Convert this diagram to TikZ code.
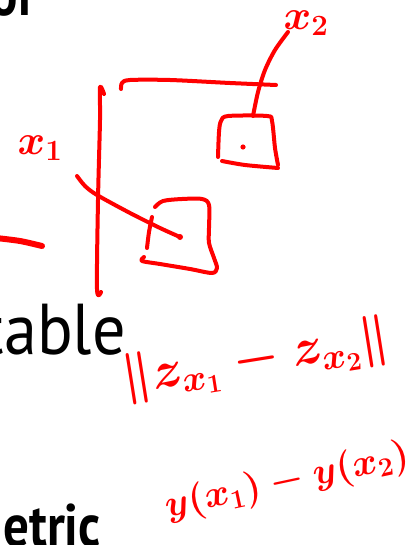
\RequirePackage{fix-cm}
\documentclass[tikz,border=0pt]{standalone}
\usepackage{fontspec}
\usepackage{graphicx}
\newfontfamily\slidefont{PT Sans}
\begin{document}
\begin{tikzpicture}[x=1pt, y=-1pt]
% Slide crop with pen annotations, units are pixels of the crop
\providecommand{\inkColor}{red}
\providecommand{\inkWidth}{4pt}
\tikzset{
  ink/.style={draw=\inkColor, line width=\inkWidth, line cap=round, line join=round},
  inkdot/.style={fill=\inkColor},
  inklabel/.style={text=\inkColor, inner sep=0pt},
  slidetext/.style={text=black, inner sep=0pt},
}
\useasboundingbox (0,0) rectangle (410,545);
\begin{scope}
  \clip (0,0) rectangle (410,545);
  % Slide text (cut off at the left edge)
  \node[slidetext, anchor=base east, font=\slidefont\bfseries\fontsize{60}{72}\selectfont] (wordof) at (34,16) {\scalebox{0.85}[1]{of}};
  \node[slidetext, anchor=base east, font=\slidefont\fontsize{72}{86}\selectfont] (wordtable) at (126,354) {\scalebox{0.92}[1]{table}};
  \node[slidetext, anchor=base east, font=\slidefont\bfseries\fontsize{60}{72}\selectfont] (wordetric) at (101,546) {\scalebox{0.85}[1]{etric}};
  % Left dash
  \draw[ink, line width=6pt] plot[smooth] coordinates {(-4,238) (20,241) (42,246)};
\end{scope}
% Points in the embedding space
\coordinate (pone) at (180,237);
\coordinate (ptwo) at (243,147);
% Axes
\draw[ink] plot[smooth] coordinates {(104,94) (100,87) (100,120) (98,200) (97,289) (101,292)};
\draw[ink] plot[smooth] coordinates {(121,89) (122,83) (130,80) (170,80) (230,83) (276,85)};
% Box around x_2
\draw[ink] plot[smooth] coordinates {(218,157) (219,132) (221,121) (228,116) (267,116) (272,121) (275,148) (278,165)};
\draw[ink] plot[smooth] coordinates {(222,161) (245,165) (278,168)};
\fill[inkdot] (ptwo) circle (2.6);
% Box around x_1
\draw[ink] plot[smooth] coordinates {(155,207) (163,201) (182,199) (202,199) (209,205) (209,228) (209,243) (214,258) (217,268) (212,273) (190,269) (160,264) (142,261) (144,257)};
\draw[ink] plot[smooth] coordinates {(152,217) (149,232) (147,248)};
\fill[inkdot] (pone) circle (3);
% Labels and pointers
\node[inklabel, font=\fontsize{42}{48}\selectfont\boldmath] (xone) at (40,148) {$x_1$};
\node[inklabel, font=\fontsize{42}{48}\selectfont\boldmath] (xtwo) at (306,23) {$x_2$};
\draw[ink] plot[smooth] coordinates {(77,176) (85,186) (97,195) (130,213) (160,228) (pone)};
\draw[ink] plot[smooth] coordinates {(288,32) (275,50) (265,70) (258,92) (253,116)};
% Distances
\node[inklabel, rotate=9, font=\fontsize{52}{60}\selectfont\boldmath] (distz) at (256,360) {$\|z_{x_1}-z_{x_2}\|$};
\node[inklabel, rotate=12, font=\fontsize{38}{46}\selectfont\boldmath] (disty) at (287,482) {$y(x_1)-y(x_2)$};
\end{tikzpicture}
\end{document}
